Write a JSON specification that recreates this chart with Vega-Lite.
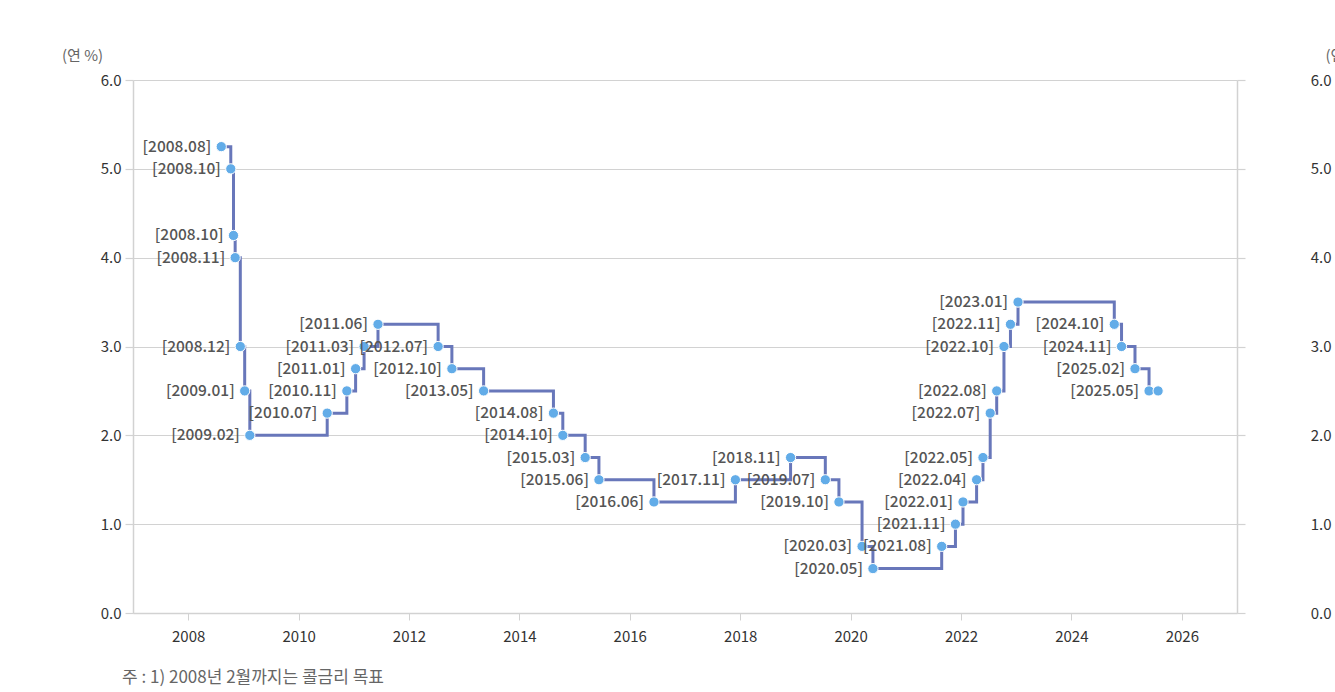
{
  "$schema": "https://vega.github.io/schema/vega-lite/v6.json",
  "width": 1104,
  "height": 533,
  "autosize": {"type": "none"},
  "padding": {"left": 133, "top": 80, "right": 98, "bottom": 79},
  "background": "white",
  "config": {"view": {"stroke": null}, "font": "Noto Sans CJK KR"},
  "title": {"text": "주 : 1) 2008년 2월까지는 콜금리 목표", "orient": "bottom", "anchor": "start", "frame": "group", "dx": -11, "offset": 26, "fontSize": 17, "fontWeight": "normal", "color": "#666666", "font": "Noto Sans CJK KR"},
  "data": {"values": [
    {"date": "2008-08-07", "rate": 5.25, "label": "[2008.08]"},
    {"date": "2008-10-09", "rate": 5.0, "label": "[2008.10]"},
    {"date": "2008-10-27", "rate": 4.25, "label": "[2008.10]"},
    {"date": "2008-11-07", "rate": 4.0, "label": "[2008.11]"},
    {"date": "2008-12-11", "rate": 3.0, "label": "[2008.12]"},
    {"date": "2009-01-09", "rate": 2.5, "label": "[2009.01]"},
    {"date": "2009-02-12", "rate": 2.0, "label": "[2009.02]"},
    {"date": "2010-07-09", "rate": 2.25, "label": "[2010.07]"},
    {"date": "2010-11-16", "rate": 2.5, "label": "[2010.11]"},
    {"date": "2011-01-13", "rate": 2.75, "label": "[2011.01]"},
    {"date": "2011-03-10", "rate": 3.0, "label": "[2011.03]"},
    {"date": "2011-06-10", "rate": 3.25, "label": "[2011.06]"},
    {"date": "2012-07-12", "rate": 3.0, "label": "[2012.07]"},
    {"date": "2012-10-11", "rate": 2.75, "label": "[2012.10]"},
    {"date": "2013-05-09", "rate": 2.5, "label": "[2013.05]"},
    {"date": "2014-08-14", "rate": 2.25, "label": "[2014.08]"},
    {"date": "2014-10-15", "rate": 2.0, "label": "[2014.10]"},
    {"date": "2015-03-12", "rate": 1.75, "label": "[2015.03]"},
    {"date": "2015-06-11", "rate": 1.5, "label": "[2015.06]"},
    {"date": "2016-06-09", "rate": 1.25, "label": "[2016.06]"},
    {"date": "2017-11-30", "rate": 1.5, "label": "[2017.11]"},
    {"date": "2018-11-30", "rate": 1.75, "label": "[2018.11]"},
    {"date": "2019-07-18", "rate": 1.5, "label": "[2019.07]"},
    {"date": "2019-10-16", "rate": 1.25, "label": "[2019.10]"},
    {"date": "2020-03-17", "rate": 0.75, "label": "[2020.03]"},
    {"date": "2020-05-28", "rate": 0.5, "label": "[2020.05]"},
    {"date": "2021-08-26", "rate": 0.75, "label": "[2021.08]"},
    {"date": "2021-11-25", "rate": 1.0, "label": "[2021.11]"},
    {"date": "2022-01-14", "rate": 1.25, "label": "[2022.01]"},
    {"date": "2022-04-14", "rate": 1.5, "label": "[2022.04]"},
    {"date": "2022-05-26", "rate": 1.75, "label": "[2022.05]"},
    {"date": "2022-07-13", "rate": 2.25, "label": "[2022.07]"},
    {"date": "2022-08-25", "rate": 2.5, "label": "[2022.08]"},
    {"date": "2022-10-12", "rate": 3.0, "label": "[2022.10]"},
    {"date": "2022-11-24", "rate": 3.25, "label": "[2022.11]"},
    {"date": "2023-01-13", "rate": 3.5, "label": "[2023.01]"},
    {"date": "2024-10-11", "rate": 3.25, "label": "[2024.10]"},
    {"date": "2024-11-28", "rate": 3.0, "label": "[2024.11]"},
    {"date": "2025-02-25", "rate": 2.75, "label": "[2025.02]"},
    {"date": "2025-05-29", "rate": 2.5, "label": "[2025.05]"},
    {"date": "2025-07-28", "rate": 2.5, "label": ""}
  ]},
  "encoding": {
    "x": {
      "field": "date", "type": "temporal",
      "scale": {"type": "utc", "domain": [{"year": 2007, "month": 1, "date": 1, "utc": true}, {"year": 2027, "month": 1, "date": 1, "utc": true}]},
      "axis": {
        "title": null,
        "values": [{"year": 2008, "month": 1, "date": 1, "utc": true}, {"year": 2010, "month": 1, "date": 1, "utc": true}, {"year": 2012, "month": 1, "date": 1, "utc": true}, {"year": 2014, "month": 1, "date": 1, "utc": true}, {"year": 2016, "month": 1, "date": 1, "utc": true}, {"year": 2018, "month": 1, "date": 1, "utc": true}, {"year": 2020, "month": 1, "date": 1, "utc": true}, {"year": 2022, "month": 1, "date": 1, "utc": true}, {"year": 2024, "month": 1, "date": 1, "utc": true}, {"year": 2026, "month": 1, "date": 1, "utc": true}],
        "format": "%Y",
        "grid": false,
        "domainColor": "#d2d2d2", "domainWidth": 1.5,
        "tickColor": "#d2d2d2", "tickSize": 7,
        "labelPadding": 9, "labelFontSize": 15, "labelColor": "#333333", "labelFont": "Noto Sans CJK KR"
      }
    }
  },
  "layer": [
    {
      "mark": {"type": "line", "interpolate": "step-after", "color": "#6877ba", "strokeWidth": 3},
      "encoding": {
        "y": {
          "field": "rate", "type": "quantitative",
          "scale": {"domain": [0, 6], "nice": false, "zero": true},
          "axis": {
            "title": "(연 %)", "titleAngle": 0, "titleX": -51, "titleY": -25, "titleAlign": "center", "titleBaseline": "middle",
            "titleFontSize": 15, "titleFontWeight": "normal", "titleColor": "#666666", "titleFont": "Noto Sans CJK KR",
            "values": [0, 1, 2, 3, 4, 5, 6], "format": ".1f",
            "grid": true, "gridColor": "#d2d2d2", "gridWidth": 1.2,
            "domainColor": "#d2d2d2", "domainWidth": 1.5,
            "tickColor": "#d2d2d2", "tickSize": 8, "tickWidth": 1.2,
            "labelPadding": 4, "labelFontSize": 15, "labelColor": "#333333", "labelFont": "Noto Sans CJK KR"
          }
        }
      }
    },
    {
      "mark": {"type": "point", "filled": true, "shape": "circle", "size": 105, "fill": "#62ace8", "stroke": "white", "strokeWidth": 1, "opacity": 1},
      "encoding": {
        "y": {
          "field": "rate", "type": "quantitative",
          "axis": {
            "orient": "right",
            "title": "(연 %)", "titleAngle": 0, "titleX": 88, "titleY": -25, "titleAlign": "left", "titleBaseline": "middle",
            "titleFontSize": 15, "titleFontWeight": "normal", "titleColor": "#666666", "titleFont": "Noto Sans CJK KR",
            "values": [0, 1, 2, 3, 4, 5, 6], "format": ".1f",
            "grid": false,
            "domainColor": "#d2d2d2", "domainWidth": 1.5,
            "tickColor": "#d2d2d2", "tickSize": 8, "tickWidth": 1.2,
            "labelAlign": "right", "labelPadding": 86, "labelFontSize": 15, "labelColor": "#333333", "labelFont": "Noto Sans CJK KR"
          }
        }
      }
    },
    {
      "mark": {"type": "text", "align": "right", "baseline": "middle", "dx": -10, "fontSize": 15.5, "fontWeight": 500, "color": "#555555", "font": "Noto Sans CJK KR"},
      "encoding": {
        "y": {"field": "rate", "type": "quantitative", "axis": null},
        "text": {"field": "label"}
      }
    }
  ],
  "resolve": {"axis": {"y": "independent"}}
}
